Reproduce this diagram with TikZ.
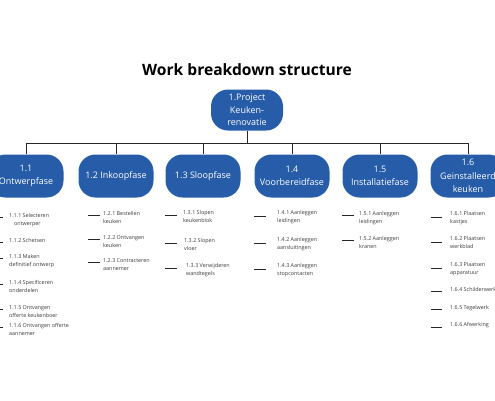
\documentclass[tikz,border=0pt]{standalone}
\usepackage{fontspec}
\setmainfont{Open Sans}
\definecolor{wbsblue}{RGB}{38,92,168}
\definecolor{leafgray}{RGB}{60,60,60}
\begin{document}
\begin{tikzpicture}[x=1pt,y=-1pt,
  phase/.style={fill=wbsblue,draw=none,rounded corners=17pt,minimum width=75pt,minimum height=43pt,
    text=white,align=center,font=\fontsize{9}{13.5}\selectfont,inner sep=0pt},
  rootbox/.style={phase,minimum width=72pt,minimum height=41pt,font=\fontsize{9}{12.5}\selectfont},
  link/.style={draw=black!85,line width=0.8pt},
  tick/.style={draw=black!85,line width=1pt},
  leaf/.style={anchor=north west,align=left,inner sep=0pt,text=leafgray,font=\fontsize{5.4}{8}\selectfont}]
\useasboundingbox (0,0) rectangle (495,400);
\clip (0,0) rectangle (495,400);
\fill[white] (0,0) rectangle (495,400);

\node[font=\fontsize{15.6}{18}\selectfont\bfseries] (title) at (247,70) {Work breakdown structure};

\node[rootbox] (root) at (247,110) {1.Project\\Keuken-\\renovatie};

\node[phase] (p1) at (26,176) {1.1\\Ontwerpfase};
\node[phase] (p2) at (116,176) {1.2 Inkoopfase};
\node[phase] (p3) at (203,176) {1.3 Sloopfase};
\node[phase] (p4) at (292,176) {1.4\\Voorbereidfase};
\node[phase] (p5) at (380,176) {1.5\\Installatiefase};
\node[phase] (p6) at (468,176) {1.6\\Geinstalleerd\\keuken};

\coordinate (bus) at (247,143);
\draw[link] (root.south) -- (bus);
\foreach \p in {p1,p2,p3,p4,p5,p6}{
  \draw[link] (\p.north) -- (\p.north |- bus);
}
\draw[link] (p1.north |- bus) -- (p6.north |- bus);

% column 1
\foreach \y/\t in {213/{1.1.1 Selecteren\\\hspace*{5pt}ontwerper},238/{1.1.2 Schetsen},254/{1.1.3 Maken\\definitief ontwerp},280/{1.1.4 Specificeren\\onderdelen},305/{1.1.5 Ontvangen\\offerte keukenboer},323/{1.1.6 Ontvangen offerte\\aannemer}}{
  \node[leaf] (a\y) at (9,\y) {\t};
  \coordinate (ta\y) at (0,\y+4);
  \draw[tick] (ta\y) -- ++(3,0);
}
% column 2
\foreach \y/\t in {211/{1.2.1 Bestellen\\keuken},235/{1.2.2 Ontvangen\\keuken},258/{1.2.3 Contracteren\\aannemer}}{
  \node[leaf] (b\y) at (103,\y) {\t};
  \coordinate (tb\y) at (88,\y+4);
  \draw[tick] (tb\y) -- ++(12,0);
}
% column 3
\foreach \y/\x/\t in {210/183/{1.3.1 Slopen\\keukenblok},238/184/{1.3.2 Slopen\\vloer},263/186/{1.3.3 Verwijderen\\wandtegels}}{
  \node[leaf] (c\y) at (\x,\y) {\t};
  \coordinate (tc\y) at (165,\y+5);
  \draw[tick] (tc\y) -- ++(12,0);
}
% column 4
\foreach \y/\t in {210/{1.4.1 Aanleggen\\leidingen},237/{1.4.2 Aanleggen\\aansluitingen},263/{1.4.3 Aanleggen\\stopcontacten}}{
  \node[leaf] (d\y) at (277,\y) {\t};
  \coordinate (td\y) at (254,\y+6);
  \draw[tick] (td\y) -- ++(12,0);
}
% column 5
\foreach \y/\t in {211/{1.5.1 Aanleggen\\leidingen},236/{1.5.2 Aanleggen\\kranen}}{
  \node[leaf] (e\y) at (359,\y) {\t};
  \coordinate (te\y) at (342,\y+4);
  \draw[tick] (te\y) -- ++(12,0);
}
% column 6
\foreach \y/\t/\d in {211/{1.6.1 Plaatsen\\kastjes}/6,236/{1.6.2 Plaatsen\\werkblad}/6,262/{1.6.3 Plaatsen\\apparatuur}/6,287/{1.6.4 Schilderwerk}/4,305/{1.6.5 Tegelwerk}/4,322/{1.6.6 Afwerking}/5}{
  \node[leaf] (f\y) at (450,\y) {\t};
  \coordinate (tf\y) at (431,\y+\d);
  \draw[tick] (tf\y) -- ++(11,0);
}
\end{tikzpicture}
\end{document}
